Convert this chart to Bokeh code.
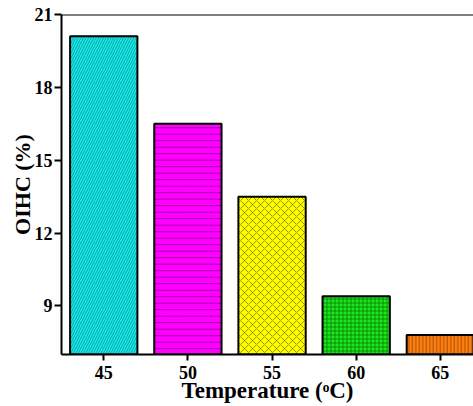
from bokeh.plotting import figure
from bokeh.models import Range1d, FixedTicker, Span
from bokeh.embed import file_html
from bokeh.resources import INLINE

temps = [45, 50, 55, 60, 65]
oihc = [20.1, 16.5, 13.5, 9.4, 7.8]
fills = ["#18ecec", "#ff00ff", "#ffff00", "#1ee61e", "#ff8010"]
hatch_colors = ["#078f8f", "#8f008f", "#808000", "#077f07", "#8f4000"]
patterns = ["/", "-", "x", "+", "|"]
hatch_scales = [5, 6.5, 8, 4, 3.5]
yticks = [9, 12, 15, 18, 21]
y_lo, y_hi = 7, 21

p = figure(width=473, height=405, output_backend="svg", toolbar_location=None,
           x_range=Range1d(42.49, 66.97), y_range=Range1d(y_lo, y_hi),
           min_border_left=61, min_border_top=14, min_border_right=0, min_border_bottom=0)
p.outline_line_color = None
p.grid.visible = False

for t, v, f, hc, pat, hs in zip(temps, oihc, fills, hatch_colors, patterns, hatch_scales):
    p.vbar(x=[t], top=[v], bottom=y_lo, width=4, fill_color=f, line_color="black", line_width=2,
           hatch_pattern=pat, hatch_color=hc, hatch_scale=hs, hatch_weight=0.8)

font = "Liberation Serif"
for ax in (p.xaxis[0], p.yaxis[0]):
    ax.axis_line_width = 2
    ax.major_tick_line_width = 2
    ax.major_tick_in = 0
    ax.major_tick_out = 6
    ax.minor_tick_line_color = None
    ax.major_label_text_font = font
    ax.major_label_text_font_style = "bold"
    ax.major_label_text_font_size = "18px"
    ax.major_label_text_color = "black"
    ax.axis_label_text_font = font
    ax.axis_label_text_font_style = "bold"
    ax.axis_label_text_color = "black"

p.xaxis.axis_label_text_font_size = "23px"
p.yaxis.axis_label_text_font_size = "22px"
p.xaxis.ticker = FixedTicker(ticks=temps)
p.yaxis.ticker = FixedTicker(ticks=yticks)
p.xaxis.axis_label = "Temperature (\u1d52C)"
p.yaxis.axis_label = "OIHC (%)"
p.xaxis.axis_label_standoff = -4
p.yaxis.axis_label_standoff = -3
p.xaxis.major_label_standoff = 5
p.yaxis.major_label_standoff = 2
p.yaxis.major_tick_out = 7

p.add_layout(Span(location=y_hi, dimension="width", line_color="black", line_width=2))

open("out.html", "w").write(file_html(p, INLINE))
